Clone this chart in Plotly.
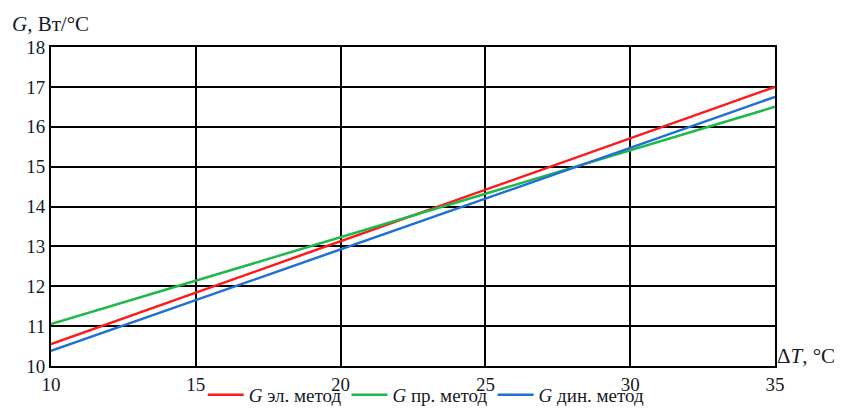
import plotly.graph_objects as go

dT = [10, 15, 20, 25, 30, 35]
g_el = [10.55, 11.84, 13.13, 14.42, 15.71, 17.0]
g_pr = [11.05, 12.14, 13.23, 14.32, 15.41, 16.5]
g_din = [10.38, 11.65, 12.93, 14.2, 15.47, 16.75]
names = ["<i>G</i> эл. метод", "<i>G</i> пр. метод", "<i>G</i> дин. метод"]
colors = ["#ff1a1a", "#1fb84a", "#1f6fd6"]
x_ticks = [10, 15, 20, 25, 30, 35]
y_ticks = [10, 11, 12, 13, 14, 15, 16, 17, 18]

font = "Times New Roman"
txt = "#161a26"
fig = go.Figure()
for ys, n, c in zip([g_el, g_pr, g_din], names, colors):
    fig.add_trace(go.Scatter(x=dT, y=ys, mode="lines", name=n,
                             line=dict(color=c, width=2.5)))

fig.update_layout(
    width=844, height=414,
    margin=dict(l=51, r=69, t=47, b=48, autoexpand=False),
    paper_bgcolor="white", plot_bgcolor="white",
    font=dict(family=font, size=18, color=txt),
    showlegend=True,
    legend=dict(orientation="h", x=0.505, xanchor="center", xref="container",
                y=-0.022, yanchor="bottom", yref="container",
                font=dict(family=font, size=19, color=txt),
                itemwidth=36, tracegroupgap=0, bgcolor="rgba(0,0,0,0)"),
    xaxis=dict(range=[10, 35], tickvals=x_ticks, showgrid=True, gridcolor="black",
               gridwidth=1.5, showline=True, linecolor="black", linewidth=2,
               mirror=True, zeroline=False, ticks="", ticklen=0, automargin=False,
               tickfont=dict(family=font, size=19, color=txt)),
    yaxis=dict(range=[10, 18], tickvals=y_ticks, showgrid=True, gridcolor="black",
               gridwidth=1.5, showline=True, linecolor="black", linewidth=2,
               mirror=True, zeroline=False, ticks="", ticklen=0, automargin=False,
               tickfont=dict(family=font, size=19, color=txt)),
    annotations=[
        dict(text="<i>G</i>, Вт/°C", xref="paper", yref="paper", x=-0.057, y=1.0,
             xanchor="left", yanchor="bottom", yshift=9, showarrow=False,
             font=dict(family=font, size=21, color=txt)),
        dict(text="Δ<i>T</i>, °C", xref="paper", yref="paper", x=1.0, y=0.0,
             xanchor="left", yanchor="bottom", xshift=0, yshift=-4, showarrow=False,
             font=dict(family=font, size=21, color=txt)),
    ],
)
fig.write_html("out.html", config={"displayModeBar": False},
               post_script="document.body.style.margin='0';")
